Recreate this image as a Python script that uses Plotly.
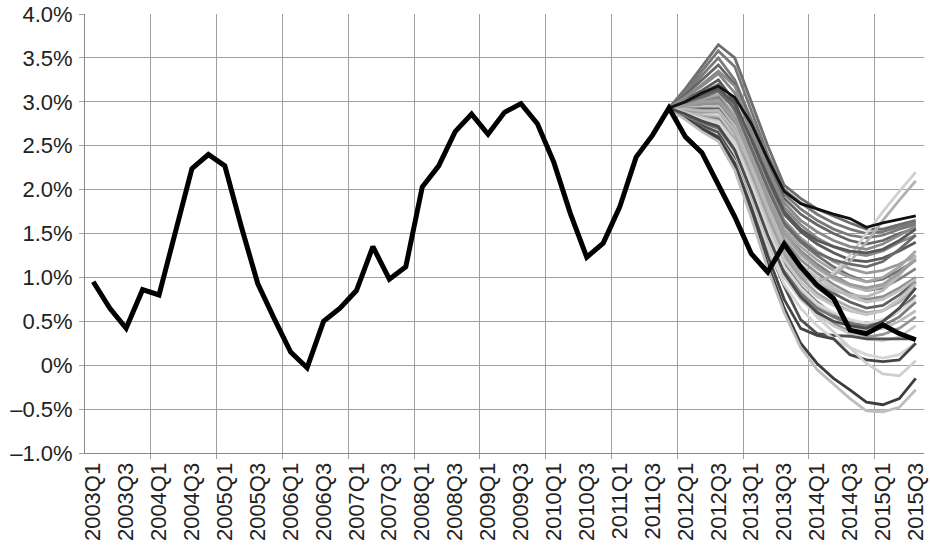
import plotly.graph_objects as go

quarters = [
    "2003Q1", "2003Q2", "2003Q3", "2003Q4", "2004Q1", "2004Q2", "2004Q3", "2004Q4",
    "2005Q1", "2005Q2", "2005Q3", "2005Q4", "2006Q1", "2006Q2", "2006Q3", "2006Q4",
    "2007Q1", "2007Q2", "2007Q3", "2007Q4", "2008Q1", "2008Q2", "2008Q3", "2008Q4",
    "2009Q1", "2009Q2", "2009Q3", "2009Q4", "2010Q1", "2010Q2", "2010Q3", "2010Q4",
    "2011Q1", "2011Q2", "2011Q3", "2011Q4", "2012Q1", "2012Q2", "2012Q3", "2012Q4",
    "2013Q1", "2013Q2", "2013Q3", "2013Q4", "2014Q1", "2014Q2", "2014Q3", "2014Q4",
    "2015Q1", "2015Q2", "2015Q3",
]

actual = [
    0.95, 0.65, 0.42, 0.86, 0.80, 1.54, 2.24, 2.40, 2.27, 1.58, 0.93, 0.53,
    0.15, -0.03, 0.50, 0.65, 0.85, 1.35, 0.98, 1.12, 2.03, 2.27, 2.66, 2.86,
    2.63, 2.88, 2.98, 2.75, 2.31, 1.73, 1.23, 1.39, 1.80, 2.37, 2.62, 2.93,
    2.60, 2.42, 2.05, 1.69, 1.27, 1.06, 1.38, 1.12, 0.91, 0.76, 0.40, 0.36,
    0.46, 0.36, 0.29,
]

# Forecast paths, 2011Q4 .. 2015Q3 (16 quarters each)
fan_start = 35
fan_paths = [
    [2.93, 3.15, 3.40, 3.65, 3.50, 3.00, 2.50, 2.05, 1.90, 1.78, 1.70, 1.62, 1.55, 1.55, 1.60, 1.65],
    [2.93, 3.12, 3.35, 3.58, 3.40, 2.90, 2.40, 2.00, 1.85, 1.72, 1.62, 1.55, 1.50, 1.52, 1.58, 1.62],
    [2.93, 3.10, 3.30, 3.50, 3.25, 2.80, 2.35, 1.95, 1.78, 1.65, 1.55, 1.48, 1.45, 1.48, 1.55, 1.60],
    [2.93, 3.08, 3.25, 3.42, 3.20, 2.75, 2.30, 1.90, 1.72, 1.60, 1.50, 1.42, 1.38, 1.42, 1.50, 1.56],
    [2.93, 3.05, 3.18, 3.32, 3.10, 2.65, 2.20, 1.80, 1.60, 1.45, 1.35, 1.28, 1.25, 1.30, 1.40, 1.48],
    [2.93, 3.03, 3.13, 3.25, 3.00, 2.55, 2.10, 1.72, 1.52, 1.38, 1.28, 1.20, 1.18, 1.22, 1.30, 1.40],
    [2.93, 3.00, 3.08, 3.15, 2.95, 2.50, 2.05, 1.65, 1.45, 1.30, 1.18, 1.10, 1.05, 1.08, 1.15, 1.25],
    [2.93, 3.02, 3.10, 3.20, 2.90, 2.45, 2.00, 1.60, 1.40, 1.25, 1.12, 1.02, 0.95, 0.98, 1.08, 1.20],
    [2.93, 2.98, 3.03, 3.08, 2.85, 2.40, 1.95, 1.55, 1.35, 1.20, 1.08, 1.00, 0.95, 1.00, 1.12, 1.30],
    [2.93, 2.97, 3.00, 3.05, 2.80, 2.35, 1.90, 1.50, 1.30, 1.15, 1.02, 0.92, 0.85, 0.88, 0.98, 1.10],
    [2.93, 2.95, 2.98, 3.00, 2.78, 2.35, 1.88, 1.45, 1.25, 1.10, 0.98, 0.90, 0.85, 0.90, 1.05, 1.22],
    [2.93, 2.95, 2.97, 2.98, 2.75, 2.30, 1.85, 1.42, 1.20, 1.05, 0.92, 0.82, 0.75, 0.78, 0.88, 1.00],
    [2.93, 2.93, 2.94, 2.95, 2.72, 2.28, 1.80, 1.38, 1.15, 1.00, 0.88, 0.78, 0.72, 0.75, 0.85, 0.98],
    [2.93, 2.92, 2.92, 2.92, 2.68, 2.22, 1.75, 1.35, 1.12, 0.95, 0.82, 0.72, 0.65, 0.68, 0.80, 0.95],
    [2.93, 2.90, 2.88, 2.88, 2.65, 2.20, 1.72, 1.30, 1.05, 0.88, 0.75, 0.66, 0.60, 0.62, 0.72, 0.88],
    [2.93, 2.88, 2.85, 2.85, 2.60, 2.15, 1.65, 1.22, 0.98, 0.92, 1.05, 1.25, 1.50, 1.75, 1.98, 2.20],
    [2.93, 2.88, 2.84, 2.82, 2.58, 2.12, 1.62, 1.20, 1.00, 0.95, 1.02, 1.18, 1.40, 1.65, 1.88, 2.10],
    [2.93, 2.87, 2.82, 2.80, 2.55, 2.08, 1.58, 1.15, 0.90, 0.72, 0.58, 0.48, 0.42, 0.45, 0.55, 0.72],
    [2.93, 2.86, 2.80, 2.75, 2.50, 2.02, 1.52, 1.10, 0.85, 0.68, 0.55, 0.45, 0.40, 0.42, 0.50, 0.62],
    [2.93, 2.85, 2.78, 2.72, 2.45, 1.98, 1.48, 1.05, 0.80, 0.62, 0.48, 0.38, 0.32, 0.35, 0.42, 0.55],
    [2.93, 2.84, 2.75, 2.68, 2.40, 1.92, 1.42, 1.00, 0.75, 0.58, 0.45, 0.36, 0.30, 0.28, 0.32, 0.45],
    [2.93, 2.83, 2.73, 2.65, 2.35, 1.85, 1.35, 0.90, 0.52, 0.36, 0.34, 0.33, 0.30, 0.30, 0.30, 0.30],
    [2.93, 2.82, 2.70, 2.60, 2.32, 1.85, 1.35, 0.92, 0.65, 0.45, 0.30, 0.20, 0.12, 0.08, 0.12, 0.25],
    [2.93, 2.82, 2.70, 2.60, 2.30, 1.80, 1.25, 0.75, 0.42, 0.34, 0.30, 0.12, 0.06, 0.04, 0.06, 0.25],
    [2.93, 2.80, 2.68, 2.58, 2.25, 1.72, 1.15, 0.65, 0.25, 0.02, -0.15, -0.28, -0.42, -0.45, -0.38, -0.15],
    [2.93, 2.80, 2.66, 2.55, 2.22, 1.68, 1.10, 0.60, 0.20, -0.05, -0.22, -0.38, -0.52, -0.53, -0.48, -0.28],
    [2.93, 2.90, 2.88, 2.90, 2.65, 2.18, 1.68, 1.25, 1.00, 0.82, 0.70, 0.62, 0.58, 0.62, 0.75, 0.95],
    [2.93, 2.85, 2.78, 2.70, 2.42, 1.95, 1.45, 1.02, 0.78, 0.55, 0.38, 0.20, 0.02, -0.10, -0.12, 0.05],
    [2.93, 3.05, 3.20, 3.35, 3.18, 2.72, 2.25, 1.85, 1.65, 1.52, 1.42, 1.35, 1.32, 1.38, 1.48, 1.58],
    [2.93, 3.00, 3.05, 3.12, 2.92, 2.48, 2.02, 1.62, 1.42, 1.28, 1.20, 1.15, 1.12, 1.18, 1.32, 1.48],
    [2.93, 2.92, 2.90, 2.90, 2.68, 2.25, 1.78, 1.35, 1.10, 0.95, 0.85, 0.80, 0.78, 0.85, 1.02, 1.25],
    [2.93, 2.88, 2.82, 2.78, 2.55, 2.10, 1.62, 1.20, 0.95, 0.78, 0.68, 0.62, 0.58, 0.62, 0.75, 0.92],
    [2.93, 2.96, 3.00, 3.02, 2.80, 2.36, 1.90, 1.50, 1.28, 1.12, 1.00, 0.92, 0.88, 0.92, 1.05, 1.20],
    [2.93, 2.84, 2.76, 2.70, 2.45, 2.00, 1.50, 1.08, 0.82, 0.65, 0.55, 0.48, 0.45, 0.50, 0.62, 0.80],
    [2.93, 3.00, 3.08, 3.15, 2.98, 2.58, 2.15, 1.75, 1.55, 1.42, 1.35, 1.30, 1.28, 1.32, 1.42, 1.55],
    [2.93, 2.86, 2.80, 2.76, 2.52, 2.05, 1.55, 1.12, 0.88, 0.70, 0.60, 0.52, 0.48, 0.52, 0.62, 0.75],
    [2.93, 2.86, 2.78, 2.72, 2.45, 1.98, 1.48, 1.05, 0.78, 0.60, 0.50, 0.45, 0.42, 0.50, 0.65, 0.88],
    [2.93, 3.00, 3.10, 3.18, 3.05, 2.75, 2.35, 1.98, 1.84, 1.78, 1.72, 1.67, 1.57, 1.62, 1.66, 1.70],
]
fan_colors = [
    "#6e6e6e", "#777777", "#7a7a7a", "#666666", "#888888", "#5a5a5a", "#999999", "#707070",
    "#a5a5a5", "#808080", "#b5b5b5", "#909090", "#c0c0c0", "#606060", "#aaaaaa", "#d0d0d0",
    "#b0b0b0", "#7d7d7d", "#bbbbbb", "#959595", "#c8c8c8", "#505050", "#d5d5d5", "#444444",
    "#3c3c3c", "#bdbdbd", "#a0a0a0", "#cfcfcf", "#8a8a8a", "#6a6a6a", "#b8b8b8", "#c5c5c5",
    "#9c9c9c", "#757575", "#585858", "#d8d8d8", "#4a4a4a", "#111111",
]

y_ticks = [-1.0, -0.5, 0.0, 0.5, 1.0, 1.5, 2.0, 2.5, 3.0, 3.5, 4.0]
y_ticktext = ["\u20131.0%", "\u20130.5%", "0%", "0.5%", "1.0%", "1.5%", "2.0%", "2.5%", "3.0%", "3.5%", "4.0%"]

n = len(quarters)
xs = list(range(n))
fan_x = xs[fan_start:]

fig = go.Figure()
for path, col in zip(fan_paths, fan_colors):
    fig.add_trace(go.Scatter(x=fan_x, y=path, mode="lines",
                             line=dict(color=col, width=2.8), hoverinfo="skip"))
fig.add_trace(go.Scatter(x=xs, y=actual, mode="lines",
                         line=dict(color="#000000", width=5), hoverinfo="skip"))

grid = "#a0a0a0"
fig.update_layout(
    width=930, height=547,
    margin=dict(l=85, r=2, t=14, b=94),
    paper_bgcolor="white", plot_bgcolor="white",
    showlegend=False,
    font=dict(family="Liberation Sans, Arial, sans-serif", color="#222222"),
    xaxis=dict(
        range=[-0.5, n - 0.5],
        tickmode="array", tickvals=xs[0::2], ticktext=quarters[0::2],
        tickangle=-90, tickfont=dict(size=22, color="#222222"),
        ticklabeloverflow="allow",
        ticks="", showgrid=False, zeroline=False,
        showline=True, linecolor="#888888", linewidth=1,
        minor=dict(tickmode="array", tickvals=[i - 0.5 for i in range(4, n, 4)],
                   showgrid=True, gridcolor=grid, gridwidth=1,
                   ticks="outside", ticklen=5, tickcolor=grid),
    ),
    yaxis=dict(
        range=[-1.0, 4.0],
        tickmode="array", tickvals=y_ticks, ticktext=y_ticktext,
        tickfont=dict(size=22, color="#222222"),
        showgrid=True, gridcolor=grid, gridwidth=1,
        ticks="outside", ticklen=5, tickcolor=grid,
        zeroline=False, showline=True, linecolor="#888888", linewidth=1,
        ticklabelstandoff=2,
    ),
)

fig.write_html("out.html")
